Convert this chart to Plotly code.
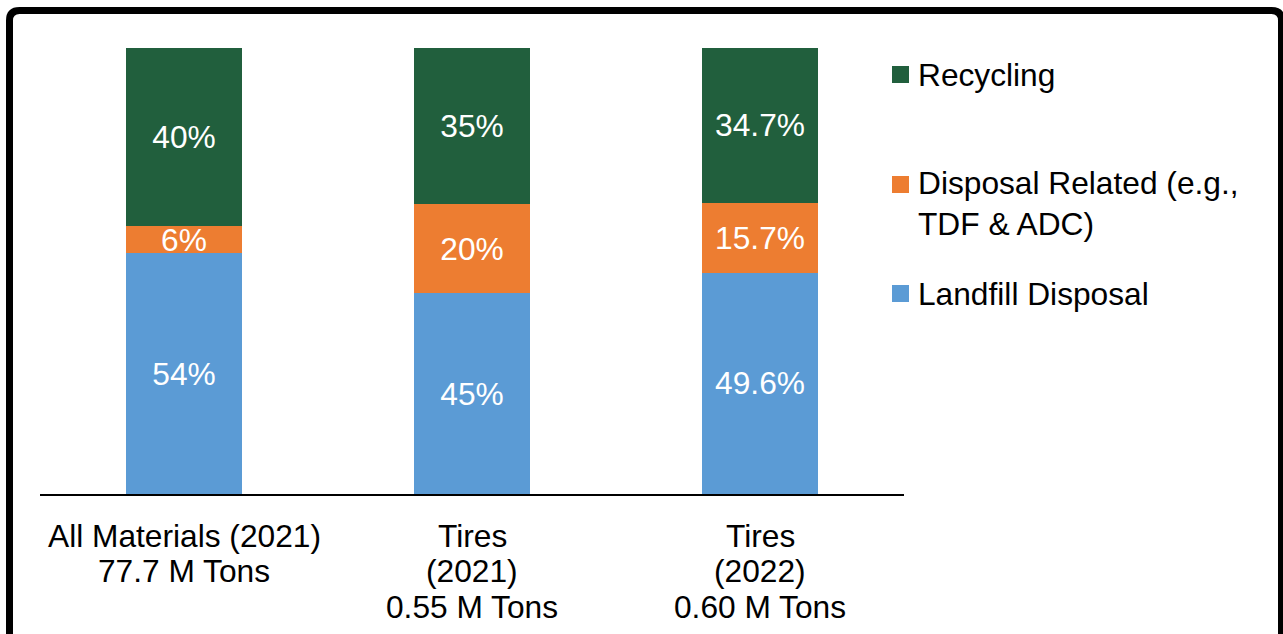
import plotly.graph_objects as go

categories = ["All Materials (2021)<br>77.7 M Tons",
              "Tires<br>(2021)<br>0.55 M Tons",
              "Tires<br>(2022)<br>0.60 M Tons"]
series_names = ["Landfill Disposal", "Disposal Related (e.g.,<br>TDF & ADC)", "Recycling"]
landfill = [54, 45, 49.6]
disposal_related = [6, 20, 15.7]
recycling = [40, 35, 34.7]
colors = ["#5B9BD5", "#ED7D31", "#215F3D"]

FONT = "Liberation Sans, Arial, sans-serif"
FS = 31.7

fig = go.Figure()
for name, vals, col in zip(series_names, [landfill, disposal_related, recycling], colors):
    fig.add_trace(go.Bar(
        x=categories, y=vals, name=name,
        marker=dict(color=col, line=dict(width=0)),
        text=[f"{v:g}%" for v in vals],
        textposition="inside", insidetextanchor="middle", textangle=0,
        textfont=dict(color="white", size=FS, family=FONT),
        showlegend=False, hoverinfo="skip",
    ))

# plot area pixel geometry
L, R, T, B = 40, 904, 48, 494
W, H = R - L, B - T
px = lambda q: (q - L) / W
py = lambda p: (B - p) / H

shapes = []
annotations = []

# category labels, one annotation per line for tighter line spacing
for c in categories:
    for i, line in enumerate(c.split("<br>")):
        annotations.append(dict(xref="x", yref="paper", x=c, y=0,
                                yshift=-(535.5 - B) - 35.5 * i,
                                xanchor="center", yanchor="middle",
                                text=line, showarrow=False,
                                font=dict(size=FS, color="black", family=FONT)))

# manual legend (top to bottom: Recycling, Disposal Related, Landfill)
leg = [(series_names[2], colors[2], 74.5), (series_names[1], colors[1], 203.5), (series_names[0], colors[0], 293.5)]
sq_centers = [74.5, 184.5, 293.5]
for (name, col, ty), sc in zip(leg, sq_centers):
    shapes.append(dict(type="rect", xref="paper", yref="paper",
                       x0=px(892), x1=px(909), y0=py(sc + 8.5), y1=py(sc - 8.5),
                       fillcolor=col, line=dict(width=0)))
    annotations.append(dict(xref="paper", yref="paper", x=px(916), y=py(ty),
                            xanchor="left", yanchor="middle", align="left",
                            text=name, showarrow=False,
                            font=dict(size=FS, color="black", family=FONT)))

# outer frame with rounded corners
x0, x1 = px(9.5), px(1281.5)
yt, yb = py(10.5), py(660)
rx, ry = 10 / W, 10 / H
path = (f"M {x0},{yb} L {x0},{yt - ry} Q {x0},{yt} {x0 + rx},{yt} "
        f"L {x1 - rx},{yt} Q {x1},{yt} {x1},{yt - ry} L {x1},{yb}")
shapes.append(dict(type="path", xref="paper", yref="paper", path=path,
                   line=dict(color="black", width=7)))

fig.update_layout(
    width=1283, height=634,
    margin=dict(l=L, r=1283 - R, t=T, b=634 - B, pad=0),
    barmode="stack", bargap=0.6,
    plot_bgcolor="white", paper_bgcolor="white",
    font=dict(family=FONT, size=FS, color="black"),
    uniformtext=dict(mode="show", minsize=FS),
    xaxis=dict(showline=True, linecolor="black", linewidth=2, ticks="",
               showticklabels=False,
               showgrid=False, zeroline=False, fixedrange=True),
    yaxis=dict(range=[0, 100], visible=False, showgrid=False, zeroline=False),
    shapes=shapes, annotations=annotations,
    showlegend=False,
)

fig.write_html("out.html")
